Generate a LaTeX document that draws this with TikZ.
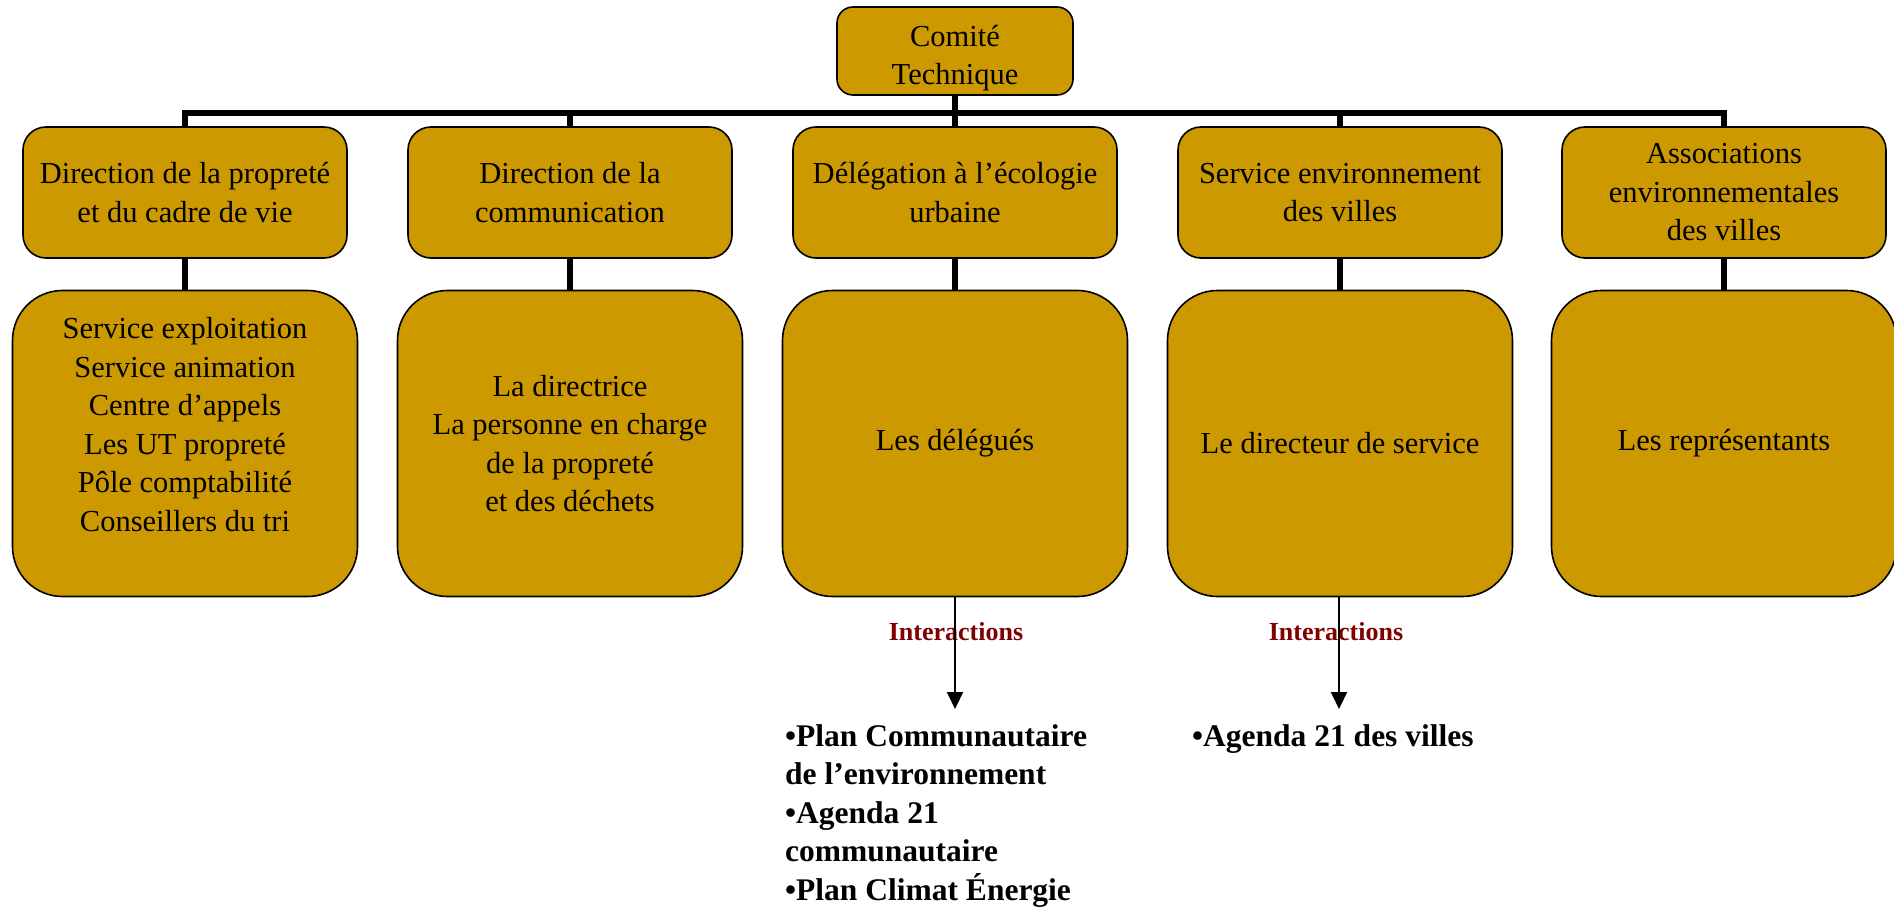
\documentclass[tikz,border=0pt]{standalone}
\usepackage{fontspec}
\setmainfont{Liberation Serif}
\usetikzlibrary{arrows.meta}
\definecolor{gold}{RGB}{204,153,0}
\definecolor{interred}{RGB}{128,0,0}
\begin{document}
\begin{tikzpicture}[x=1pt,y=-1pt,
  txt/.style={align=center, inner sep=0pt, font=\fontsize{30.5}{38.5}\selectfont},
  box/.style={txt, draw=black, line width=1.6pt, fill=gold},
  topbox/.style={box, minimum width=236pt, minimum height=88pt, rounded corners=16pt},
  dirbox/.style={box, minimum width=324pt, minimum height=131pt, rounded corners=23pt},
  staffbox/.style={box, minimum width=345pt, minimum height=306pt, rounded corners=50pt},
  trunk/.style={line width=6pt},
  arr/.style={line width=2pt, -{Triangle[width=16pt,length=17pt]}},
  inter/.style={font=\fontsize{26}{30}\selectfont\bfseries, text=interred, inner sep=0pt, anchor=base},
  bullets/.style={font=\fontsize{31.5}{38.5}\selectfont\bfseries, align=left, inner sep=0pt, anchor=north west}
]
\useasboundingbox (0,0) rectangle (1894,909);

\coordinate (bar) at (0,113);

\node[topbox] (top) at (955,51) {};
\node[txt] (toptext) at (955,58) {Comité\\Technique};

\node[dirbox] (d1) at (185,192.5) {Direction de la propreté\\et du cadre de vie};
\node[dirbox] (d2) at (570,192.5) {Direction de la\\communication};
\node[dirbox] (d3) at (955,192.5) {Délégation à l’écologie\\urbaine};
\node[dirbox] (d4) at (1340,192.5) {Service environnement\\des villes};
\node[dirbox] (d5) at (1724,192.5) {Associations\\environnementales\\des villes};

\node[staffbox] (s1) at (185,443.5) {Service exploitation\\Service animation\\Centre d’appels\\Les UT propreté\\Pôle comptabilité\\Conseillers du tri\\\mbox{}};
\node[staffbox] (s2) at (570,443.5) {La directrice\\La personne en charge\\de la propreté\\et des déchets};
\node[staffbox] (s3) at (955,443.5) {Les délégués};
\node[staffbox] (s4) at (1340,443.5) {Le directeur de service};
\node[staffbox] (s5) at (1724,443.5) {Les représentants};

\draw[trunk] (top.south) -- (top.south |- bar);
\draw[trunk] (d1.north) -- (d1.north |- bar) -- (d5.north |- bar) -- (d5.north);
\draw[trunk] (d2.north) -- (d2.north |- bar);
\draw[trunk] (d3.north) -- (d3.north |- bar);
\draw[trunk] (d4.north) -- (d4.north |- bar);

\foreach \k in {1,...,5} {
  \draw[trunk] (d\k.south) -- (s\k.north);
}

\node[inter] (i3) at (956,640) {Interactions};
\node[inter] (i4) at (1336,640) {Interactions};

\coordinate (a3) at (955,709);
\coordinate (a4) at (1339,709);
\draw[arr] (s3.south) -- (a3);
\draw[arr] (s4.south -| a4) -- (a4);

\node[bullets] (b3) at (785,724) {•Plan Communautaire\\de l’environnement\\•Agenda 21\\communautaire\\•Plan Climat Énergie};
\node[bullets] (b4) at (1192,724) {•Agenda 21 des villes};
\end{tikzpicture}
\end{document}
